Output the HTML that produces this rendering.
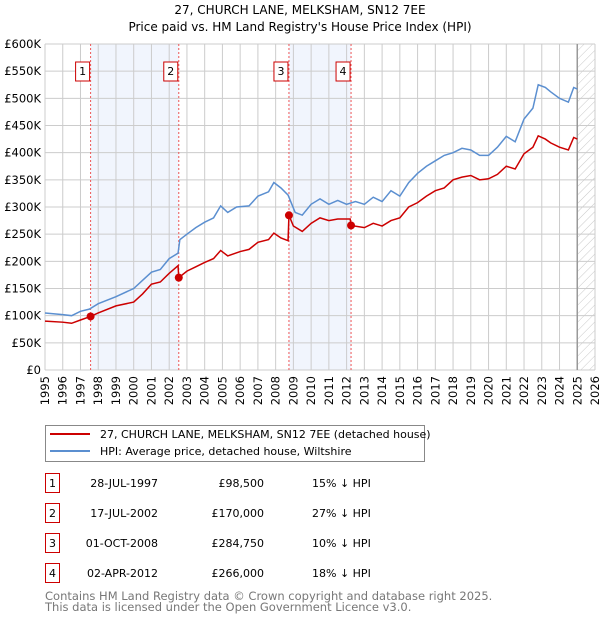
<!DOCTYPE html>
<html><head><meta charset="utf-8"><style>
body{margin:0;background:#fff;font-family:"DejaVu Sans","Liberation Sans",sans-serif;}
svg text{font-family:"DejaVu Sans","Liberation Sans",sans-serif;}
</style></head><body>
<svg id="c" width="600" height="620" xmlns="http://www.w3.org/2000/svg">
<defs><pattern id="hatch" width="6" height="6" patternUnits="userSpaceOnUse" patternTransform="rotate(45)"><line x1="0" y1="0" x2="0" y2="6" stroke="#bbb" stroke-width="0.8"/></pattern></defs>
<text x="300" y="14" text-anchor="middle" font-size="12">27, CHURCH LANE, MELKSHAM, SN12 7EE</text>
<text x="300" y="31" text-anchor="middle" font-size="12">Price paid vs. HM Land Registry's House Price Index (HPI)</text>
<g id="plot"></g>
<g>
<rect x="45.5" y="425.5" width="379" height="36" fill="#fff" stroke="#888"/>
<line x1="50" y1="434" x2="90" y2="434" stroke="#cc0000" stroke-width="2"/>
<text x="100" y="438" font-size="11">27, CHURCH LANE, MELKSHAM, SN12 7EE (detached house)</text>
<line x1="50" y1="451" x2="90" y2="451" stroke="#5b8fd0" stroke-width="2"/>
<text x="100" y="455" font-size="11">HPI: Average price, detached house, Wiltshire</text>
</g>
<g id="tbl"></g>
<text x="45" y="600" font-size="11.5" fill="#777">Contains HM Land Registry data © Crown copyright and database right 2025.</text>
<text x="45" y="611" font-size="11.5" fill="#777">This data is licensed under the Open Government Licence v3.0.</text>
</svg>
<script>
const hpiX=[1995,1996,1996.5,1997,1997.5,1998,1999,2000,2000.5,2001,2001.5,2002,2002.5,2002.6,2003,2003.5,2004,2004.5,2004.9,2005.3,2005.8,2006.5,2007,2007.6,2007.9,2008.3,2008.7,2009.1,2009.5,2010,2010.5,2011,2011.5,2012,2012.5,2013,2013.5,2014,2014.5,2015,2015.5,2016,2016.5,2017,2017.5,2018,2018.5,2019,2019.5,2020,2020.5,2021,2021.5,2022,2022.5,2022.8,2023.2,2023.5,2024,2024.5,2024.8,2025];
const hpiV=[105,102,100,108,112,122,135,150,165,180,185,205,215,240,250,262,272,280,302,290,300,302,320,328,345,335,322,290,285,305,315,305,312,305,310,305,318,310,330,320,345,362,375,385,395,400,408,405,395,395,410,430,420,462,482,525,520,512,500,493,520,517];
const ppX=[1995,1996,1996.5,1997,1997.57,1998,1999,2000,2000.5,2001,2001.5,2002,2002.5,2002.54,2003,2003.5,2004,2004.5,2004.9,2005.3,2006,2006.5,2007,2007.6,2007.9,2008.3,2008.7,2008.75,2009,2009.5,2010,2010.5,2011,2011.5,2012.2,2012.25,2013,2013.5,2014,2014.5,2015,2015.5,2016,2016.5,2017,2017.5,2018,2018.5,2019,2019.5,2020,2020.5,2021,2021.5,2022,2022.5,2022.8,2023.2,2023.5,2024,2024.5,2024.8,2025];
const ppV=[90,88,86,92,98.5,105,118,125,140,158,162,178,192,170,182,190,198,205,220,210,218,222,235,240,252,243,238,284.75,265,255,270,280,275,278,278,266,262,270,265,275,280,300,308,320,330,335,350,355,358,350,352,360,375,370,398,410,431,425,418,410,405,428,425];
const saleX=[1997.57,2002.54,2008.75,2012.25];
const saleV=[98.5,170,284.75,266];
const saleLabels=["1","2","3","4"];
const saleDates=["28-JUL-1997","17-JUL-2002","01-OCT-2008","02-APR-2012"];
const salePrices=["£98,500","£170,000","£284,750","£266,000"];
const saleHpi=["15% ↓ HPI","27% ↓ HPI","10% ↓ HPI","18% ↓ HPI"];
const yTicks=[0,50,100,150,200,250,300,350,400,450,500,550,600];
const yLabels=["£0","£50K","£100K","£150K","£200K","£250K","£300K","£350K","£400K","£450K","£500K","£550K","£600K"];
const years=[];for(let y=1995;y<=2026;y++)years.push(y);
const X=v=>45+(v-1995)*(550/31), Y=v=>370-v*(326/600);
const NS="http://www.w3.org/2000/svg", g=document.getElementById('plot');
function mk(t,a,p){const e=document.createElementNS(NS,t);for(const k in a)e.setAttribute(k,a[k]);(p||g).appendChild(e);return e;}
const sh=mk('rect',{x:X(saleX[0]),y:Y(600),width:X(saleX[1])-X(saleX[0]),height:Y(0)-Y(600),fill:'#eef3fc',opacity:0.8});

const sh2=mk('rect',{x:X(saleX[2]),y:Y(600),width:X(saleX[3])-X(saleX[2]),height:Y(0)-Y(600),fill:'#eef3fc',opacity:0.8});

const ht=mk('rect',{x:X(2025),y:Y(600),width:X(2026)-X(2025),height:Y(0)-Y(600),fill:'url(#hatch)'});

yTicks.forEach((t,i)=>{mk('line',{x1:X(1995),x2:X(2026),y1:Y(t),y2:Y(t),stroke:'#ccc'});
 const tx=mk('text',{x:41,y:Y(t)+4,'text-anchor':'end','font-size':11.5});tx.textContent=yLabels[i];
 });
years.forEach(y=>{mk('line',{x1:X(y),x2:X(y),y1:Y(600),y2:Y(0),stroke:'#ccc'});
 const tx=mk('text',{transform:`translate(${X(y)+4},376) rotate(-90)`,'text-anchor':'end','font-size':11.5});tx.textContent=y;
 });
mk('line',{x1:X(2025),x2:X(2025),y1:Y(600),y2:Y(0),stroke:'#999','stroke-width':1.5});
saleX.forEach((s,i)=>{mk('line',{x1:X(s),x2:X(s),y1:Y(600),y2:Y(0),stroke:'#e55','stroke-dasharray':'2,2'});
 const b=mk('rect',{x:X(s)-15,y:62,width:14,height:19,fill:'#fff',stroke:'#cc0000'});
 
 const t=mk('text',{x:X(s)-8,y:75,'text-anchor':'middle','font-size':11});t.textContent=saleLabels[i];});
const hp=mk('polyline',{points:hpiX.map((x,i)=>X(x)+','+Y(hpiV[i])).join(' '),fill:'none',stroke:'#5b8fd0','stroke-width':1.5});

const pp=mk('polyline',{points:ppX.map((x,i)=>X(x)+','+Y(ppV[i])).join(' '),fill:'none',stroke:'#cc0000','stroke-width':1.5});

saleX.forEach((s,i)=>{const c=mk('circle',{cx:X(s),cy:Y(saleV[i]),r:4,fill:'#cc0000'});
 });
const tb=document.getElementById('tbl');
saleX.forEach((s,i)=>{const cy=483+i*30;
 mk('rect',{x:45.5,y:cy-9.5,width:14,height:19,fill:'#fff',stroke:'#cc0000'},tb);
 const a=mk('text',{x:52.5,y:cy+4,'text-anchor':'middle','font-size':11},tb);a.textContent=saleLabels[i];
 const d=mk('text',{x:158,y:cy+4,'text-anchor':'end','font-size':11},tb);d.textContent=saleDates[i];
 
 const p=mk('text',{x:264,y:cy+4,'text-anchor':'end','font-size':11},tb);p.textContent=salePrices[i];
 
 const h=mk('text',{x:312,y:cy+4,'font-size':11},tb);h.textContent=saleHpi[i];
 });
</script>
</body></html>
